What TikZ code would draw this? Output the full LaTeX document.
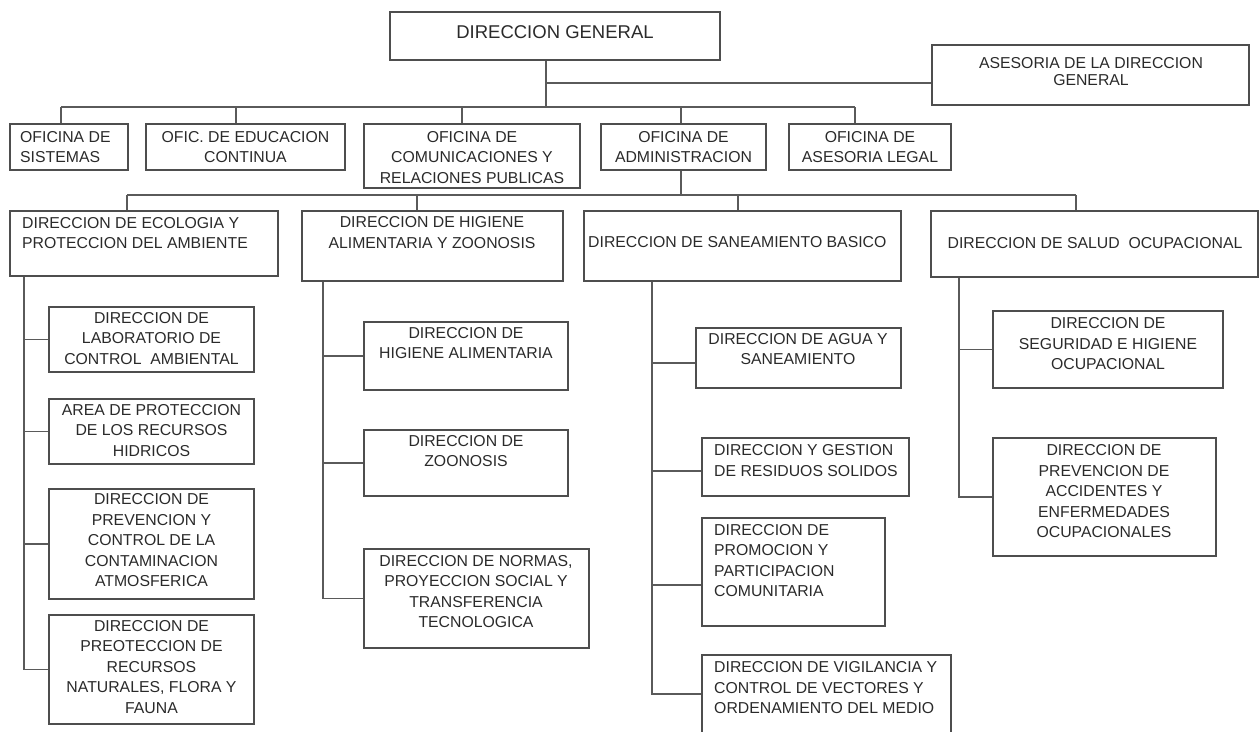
\documentclass[tikz,border=0pt]{standalone}
\usepackage{fontspec}
\setmainfont{Liberation Sans}
\usetikzlibrary{fit}
\definecolor{boxgray}{HTML}{4E4E4E}
\definecolor{linegray}{HTML}{5A5A5A}
\definecolor{textgray}{HTML}{2A2A2A}
% a rectangular unit given by its two corners (x1,y1) (x2,y2)
\newcommand\orgbox[5]{%
  \path (#2,#3) coordinate (#1-a) (#4,#5) coordinate (#1-b);
  \node[box, fit=(#1-a)(#1-b)] (#1) {};}
\begin{document}
\begin{tikzpicture}[x=1pt, y=-1pt,
  box/.style={draw=boxgray, line width=1.8pt, inner sep=0pt},
  wire/.style={draw=linegray, line width=1.8pt},
  lbl/.style={inner sep=0pt, text=textgray, align=center,
    font=\fontsize{15.8}{20.5}\selectfont},
  lbll/.style={lbl, align=left, anchor=west},
]
\useasboundingbox (0,0) rectangle (1260,731);

% ---------- boxes ----------
\orgbox{DG}{390}{12}{720}{60}
\orgbox{ASE}{932}{45}{1249}{105}
\orgbox{SIS}{10}{124}{128}{170}
\orgbox{EDU}{146}{124}{345}{170}
\orgbox{COM}{364}{124}{580}{188}
\orgbox{ADM}{601}{124}{766}{170}
\orgbox{LEG}{789}{124}{951}{170}

\orgbox{ECO}{10}{211}{278}{276}
\orgbox{HIG}{302}{211}{563}{281}
\orgbox{SAN}{584}{211}{901}{281}
\orgbox{SAL}{931}{211}{1258}{277}

\orgbox{E1}{49}{307}{254}{372}
\orgbox{E2}{49}{399}{254}{464}
\orgbox{E3}{49}{489}{254}{599}
\orgbox{E4}{49}{615}{254}{724}

\orgbox{H1}{364}{322}{568}{390}
\orgbox{H2}{364}{430}{568}{496}
\orgbox{H3}{364}{549}{589}{648}

\orgbox{S1}{696}{328}{901}{388}
\orgbox{S2}{702}{438}{909}{496}
\orgbox{S3}{702}{518}{885}{626}
\orgbox{S4}{702}{655}{951}{733}

\orgbox{O1}{993}{311}{1223}{388}
\orgbox{O2}{993}{438}{1216}{556}

% ---------- labels ----------
\node[lbl, font=\fontsize{18.5}{22}\selectfont] (tDG) at (555,32) {DIRECCION GENERAL};
\node[lbl, font=\fontsize{15.8}{17.5}\selectfont] (tASE) at (1091,71.5) {ASESORIA DE LA DIRECCION\\GENERAL};
\node[lbll] (tSIS) at (20,147) {OFICINA DE\\SISTEMAS};
\node[lbl] (tEDU) at (245.5,147) {OFIC. DE EDUCACION\\CONTINUA};
\node[lbl] (tCOM) at (472,157.5) {OFICINA DE\\COMUNICACIONES Y\\RELACIONES PUBLICAS};
\node[lbl] (tADM) at (683.5,147) {OFICINA DE\\ADMINISTRACION};
\node[lbl] (tLEG) at (870,147) {OFICINA DE\\ASESORIA LEGAL};

\node[lbll] (tECO) at (22,233) {DIRECCION DE ECOLOGIA Y\\PROTECCION DEL AMBIENTE};
\node[lbl] (tHIG) at (432,232.5) {DIRECCION DE HIGIENE\\ALIMENTARIA Y ZOONOSIS};
\node[lbll] (tSAN) at (588,242) {DIRECCION DE SANEAMIENTO BASICO};
\node[lbl] (tSAL) at (1095,243) {DIRECCION DE SALUD\ \ OCUPACIONAL};

\node[lbl] (tE1) at (151.5,338.3) {DIRECCION DE\\LABORATORIO DE\\CONTROL\ \ AMBIENTAL};
\node[lbl] (tE2) at (151.5,430.3) {AREA DE PROTECCION\\DE LOS RECURSOS\\HIDRICOS};
\node[lbl] (tE3) at (151.5,540.3) {DIRECCION DE\\PREVENCION Y\\CONTROL DE LA\\CONTAMINACION\\ATMOSFERICA};
\node[lbl] (tE4) at (151.5,667) {DIRECCION DE\\PREOTECCION DE\\RECURSOS\\NATURALES, FLORA Y\\FAUNA};

\node[lbl] (tH1) at (466,343) {DIRECCION DE\\HIGIENE ALIMENTARIA};
\node[lbl] (tH2) at (466,451) {DIRECCION DE\\ZOONOSIS};
\node[lbl] (tH3) at (476,591.5) {DIRECCION DE NORMAS,\\PROYECCION SOCIAL Y\\TRANSFERENCIA\\TECNOLOGICA};

\node[lbl] (tS1) at (798,349) {DIRECCION DE AGUA Y\\SANEAMIENTO};
\node[lbll] (tS2) at (714,460.5) {DIRECCION Y GESTION\\DE RESIDUOS SOLIDOS};
\node[lbll] (tS3) at (714,560.5) {DIRECCION DE\\PROMOCION Y\\PARTICIPACION\\COMUNITARIA};
\node[lbll] (tS4) at (714,688) {DIRECCION DE VIGILANCIA Y\\CONTROL DE VECTORES Y\\ORDENAMIENTO DEL MEDIO};

\node[lbl] (tO1) at (1108,344) {DIRECCION DE\\SEGURIDAD E HIGIENE\\OCUPACIONAL};
\node[lbl] (tO2) at (1104,491.5) {DIRECCION DE\\PREVENCION DE\\ACCIDENTES Y\\ENFERMEDADES\\OCUPACIONALES};

% ---------- connector junctions ----------
\coordinate (bus1) at (546,107);
\coordinate (aseJ) at (546,83);
\coordinate (dSIS) at (61,107);
\coordinate (dEDU) at (236,107);
\coordinate (dCOM) at (462,107);
\coordinate (dADM) at (681,107);
\coordinate (dLEG) at (855,107);
\coordinate (bus2) at (681,195);
\coordinate (dECO) at (127,195);
\coordinate (dHIG) at (417,195);
\coordinate (dSAN) at (738,195);
\coordinate (dSAL) at (1076,195);
\coordinate (xECO) at (24,0);
\coordinate (xHIG) at (323,0);
\coordinate (xSAN) at (652,0);
\coordinate (xSAL) at (959,0);

% ---------- connectors ----------
\draw[wire] (bus1 |- DG.south) -- (bus1);
\draw[wire] (aseJ) -- (aseJ -| ASE.west);
\draw[wire] (dSIS) -- (dLEG);
\foreach \n in {SIS,EDU,COM,ADM,LEG}
  \draw[wire] (d\n) -- (d\n |- \n.north);

\draw[wire] (bus2 |- ADM.south) -- (bus2);
\draw[wire] (dECO) -- (dSAL);
\foreach \n in {ECO,HIG,SAN,SAL}
  \draw[wire] (d\n) -- (d\n |- \n.north);

\draw[wire] (xECO |- ECO.south) |- (E4.west);
\foreach \n in {E1,E2,E3}
  \draw[wire] (xECO |- \n.west) -- (\n.west);

\draw[wire] (xHIG |- HIG.south) |- (H3.west);
\foreach \n in {H1,H2}
  \draw[wire] (xHIG |- \n.west) -- (\n.west);

\draw[wire] (xSAN |- SAN.south) |- (S4.west);
\draw[wire] ([yshift=-5pt]S1.west -| xSAN) -- ([yshift=-5pt]S1.west);
\draw[wire] ([yshift=-4pt]S2.west -| xSAN) -- ([yshift=-4pt]S2.west);
\draw[wire] ([yshift=-13pt]S3.west -| xSAN) -- ([yshift=-13pt]S3.west);

\draw[wire] (xSAL |- SAL.south) |- (O2.west);
\draw[wire] (xSAL |- O1.west) -- (O1.west);
\end{tikzpicture}
\end{document}
